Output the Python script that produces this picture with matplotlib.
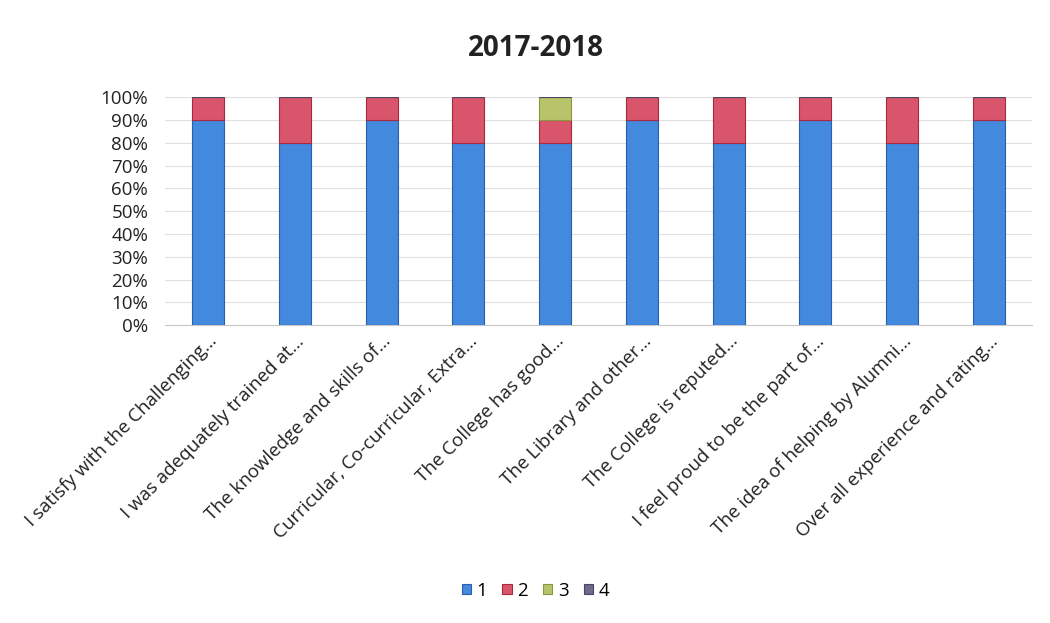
import matplotlib
matplotlib.use("Agg")
import matplotlib.pyplot as plt
import numpy as np
from matplotlib.ticker import PercentFormatter

plt.rcParams['font.family'] = ['Open Sans', 'DejaVu Sans']

categories = [
    "I satisfy with the Challenging…",
    "I was adequately trained at…",
    "The knowledge and skills of…",
    "Curricular, Co-curricular, Extra…",
    "The College has good…",
    "The Library and other…",
    "The College is reputed…",
    "I feel proud to be the part of…",
    "The idea of helping by Alumni…",
    "Over all experience and rating…",
]
series_names = ["1", "2", "3", "4"]
s1 = [90, 80, 90, 80, 80, 90, 80, 90, 80, 90]
s2 = [10, 20, 10, 20, 10, 10, 20, 10, 20, 10]
s3 = [0, 0, 0, 0, 10, 0, 0, 0, 0, 0]
s4 = [0, 0, 0, 0, 0, 0, 0, 0, 0, 0]
colors = ["#4389dd", "#d9556b", "#b8c46a", "#6f6a8c"]
edges = ["#2a5fa8", "#a8283e", "#8a9640", "#4a4566"]

fig = plt.figure(figsize=(10.5, 6.23), dpi=100)
ax = fig.add_axes([0.157, 0.478, 0.826, 0.366])

x = np.arange(len(categories))
bottom = np.zeros(len(categories))
handles = []
for vals, name, c, e in zip([s1, s2, s3, s4], series_names, colors, edges):
    v = np.array(vals, dtype=float) / 100.0
    h = ax.bar(x, v, width=0.37, bottom=bottom, color=c, edgecolor=e,
               linewidth=0.8, label=name, zorder=3)
    handles.append(h)
    bottom += v

ax.set_xlim(-0.5, len(categories) - 0.5)
ax.set_ylim(0, 1.0)
ax.set_yticks(np.arange(0, 1.01, 0.1))
ax.yaxis.set_major_formatter(PercentFormatter(1.0, decimals=0))
ax.grid(axis='y', color='#e0e0e0', linewidth=0.8, zorder=0)
for sp in ['top', 'right', 'left']:
    ax.spines[sp].set_visible(False)
ax.spines['bottom'].set_color('#c8c8c8')
ax.tick_params(axis='y', length=0, labelsize=13.5, colors='#222222', pad=12)
ax.tick_params(axis='x', length=0, labelsize=13.5, colors='#222222', pad=5)
ax.set_xticks(x)
ax.set_xticklabels(categories, rotation=45, ha='right', rotation_mode='anchor')

fig.suptitle("2017-2018", x=0.510, y=0.945, fontsize=20, fontweight='bold', color='#222222')

fig.legend(handles=handles, labels=series_names, loc='center', bbox_to_anchor=(0.51, 0.052),
           ncol=4, frameon=False, fontsize=13.5, handlelength=0.5, handleheight=0.5,
           handletextpad=0.3, columnspacing=0.8)

fig.savefig("out.png", dpi=100, facecolor='white')
